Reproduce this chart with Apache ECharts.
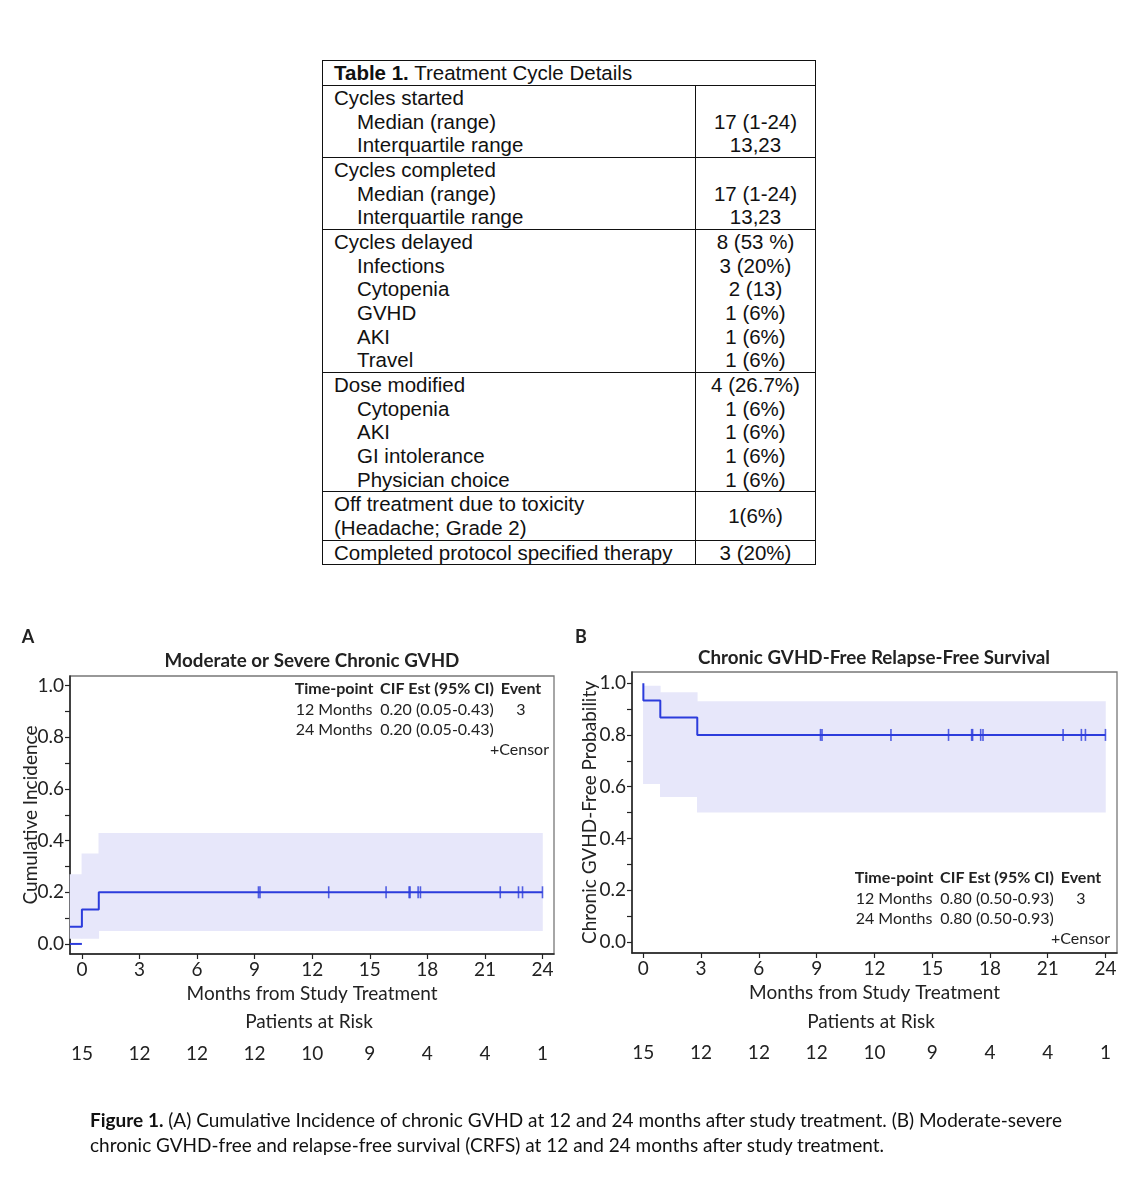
<!DOCTYPE html>
<html>
<head>
<meta charset="utf-8">
<script src="https://cdn.jsdelivr.net/npm/echarts@6/dist/echarts.min.js"></script>
<style>
html,body{margin:0;padding:0;background:#fff;}
#chart{position:absolute;left:0;top:0;width:1141px;height:1200px;}
#tbl{position:absolute;left:322px;top:60px;width:494px;border:1.4px solid #111;box-sizing:border-box;
  font-family:"Liberation Sans",Arial,sans-serif;font-size:20.5px;color:#111;line-height:23.67px;background:#fff;}
.trow{display:flex;border-top:1.4px solid #111;}
.tl{width:373px;box-sizing:border-box;padding-left:11px;border-right:1.4px solid #111;}
.tr{flex:1;text-align:center;display:flex;flex-direction:column;justify-content:center;}
.title{padding-left:11px;height:24px;line-height:24px;}
.ind{padding-left:23px;}
#cap{position:absolute;left:90px;top:1107px;font-family:Lato,"Noto Sans",sans-serif;font-size:19px;color:#111;line-height:25px;white-space:nowrap;}
</style>
</head>
<body>
<div id="chart"></div>
<div id="tbl"></div>
<div id="cap"></div>
<script>
// ---------- Table data ----------
const tableTitleBold = "Table 1.";
const tableTitleRest = " Treatment Cycle Details";
const tableGroups = [
  [["Cycles started", "", 0], ["Median (range)", "17 (1-24)", 1], ["Interquartile range", "13,23", 1]],
  [["Cycles completed", "", 0], ["Median (range)", "17 (1-24)", 1], ["Interquartile range", "13,23", 1]],
  [["Cycles delayed", "8 (53 %)", 0], ["Infections", "3 (20%)", 1], ["Cytopenia", "2 (13)", 1], ["GVHD", "1 (6%)", 1], ["AKI", "1 (6%)", 1], ["Travel", "1 (6%)", 1]],
  [["Dose modified", "4 (26.7%)", 0], ["Cytopenia", "1 (6%)", 1], ["AKI", "1 (6%)", 1], ["GI intolerance", "1 (6%)", 1], ["Physician choice", "1 (6%)", 1]]
];
const offTreatLabel = ["Off treatment due to toxicity", "(Headache; Grade 2)"];
const offTreatValue = "1(6%)";
const completedLabel = "Completed protocol specified therapy";
const completedValue = "3 (20%)";
const captionBold = "Figure 1.";
const captionLine1 = " (A) Cumulative Incidence of chronic GVHD at 12 and 24 months after study treatment. (B) Moderate-severe";
const captionLine2 = "chronic GVHD-free and relapse-free survival (CRFS) at 12 and 24 months after study treatment.";

// ---------- Chart data ----------
const xTicks = [0, 3, 6, 9, 12, 15, 18, 21, 24];
const yTicks = [0, 0.1, 0.2, 0.3, 0.4, 0.5, 0.6, 0.7, 0.8, 0.9, 1.0];
const yLabelTicks = [0, 0.2, 0.4, 0.6, 0.8, 1.0];
const riskA = [15, 12, 12, 12, 10, 9, 4, 4, 1];
const riskB = [15, 12, 12, 12, 10, 9, 4, 4, 1];

// Panel A: cumulative incidence step curve
const stepTimesA = [-0.62, 0, 0.88];
const stepValuesA = [0.067, 0.133, 0.2];
const stepEndA = 24;
const baseTimesA = [-0.62, 0];
const baseValuesA = [0, 0];
const bandStartA = [-0.62, 0, 0.88];
const bandEndA = [0, 0.88, 24];
const bandLowA = [0.02, 0.02, 0.05];
const bandHighA = [0.27, 0.35, 0.43];
const censorTimesA = [9.2, 9.28, 12.86, 15.85, 17.05, 17.1, 17.52, 17.64, 21.8, 22.75, 22.96, 24.0];
const censorValueA = 0.2;

// Panel B: CRFS step curve
const stepTimesB = [0, 0, 0.88, 2.8];
const stepValuesB = [1.0, 0.933, 0.867, 0.8];
const stepEndB = 24;
const bandStartB = [0, 0.88, 2.8];
const bandEndB = [0.88, 2.8, 24];
const bandLowB = [0.61, 0.56, 0.50];
const bandHighB = [0.99, 0.965, 0.93];
const censorTimesB = [9.2, 9.28, 12.86, 15.85, 17.05, 17.1, 17.52, 17.64, 21.8, 22.75, 22.96, 24.0];
const censorValueB = 0.8;

const insetHeader = ["Time-point", "CIF Est (95% CI)", "Event"];
const insetRowsA = [["12 Months", "0.20 (0.05-0.43)", "3"], ["24 Months", "0.20 (0.05-0.43)", ""]];
const insetRowsB = [["12 Months", "0.80 (0.50-0.93)", "3"], ["24 Months", "0.80 (0.50-0.93)", ""]];
const censorLabel = "+Censor";
const titleA = "Moderate or Severe Chronic GVHD";
const titleB = "Chronic GVHD-Free Relapse-Free Survival";
const yNameA = "Cumulative Incidence";
const yNameB = "Chronic GVHD-Free Probability";
const xName = "Months from Study Treatment";
const riskTitle = "Patients at Risk";

// ---------- Build table ----------
(function () {
  const t = document.getElementById('tbl');
  let h = '<div class="title"><b>' + tableTitleBold + '</b>' + tableTitleRest + '</div>';
  tableGroups.forEach(g => {
    h += '<div class="trow"><div class="tl">';
    g.forEach(r => { h += '<div' + (r[2] ? ' class="ind"' : '') + '>' + r[0] + '</div>'; });
    h += '</div><div class="tr" style="justify-content:flex-start">';
    g.forEach(r => { h += '<div>' + (r[1] || '&nbsp;') + '</div>'; });
    h += '</div></div>';
  });
  h += '<div class="trow"><div class="tl">' + offTreatLabel.map(s => '<div>' + s + '</div>').join('') + '</div><div class="tr"><div>' + offTreatValue + '</div></div></div>';
  h += '<div class="trow"><div class="tl">' + completedLabel + '</div><div class="tr"><div>' + completedValue + '</div></div></div>';
  t.innerHTML = h;
  document.getElementById('cap').innerHTML = '<b>' + captionBold + '</b>' + captionLine1 + '<br>' + captionLine2;
})();

// ---------- Chart ----------
const FONT = 'Lato';
const LINE = '#2c3cdc';
const BAND = '#e7e7fa';
const INK = '#222';

function stepPoints(times, values, end) {
  const pts = [];
  for (let i = 0; i < times.length; i++) {
    pts.push([times[i], values[i]]);
    const next = i + 1 < times.length ? times[i + 1] : end;
    pts.push([next, values[i]]);
  }
  return pts;
}
function bandData(s, e, lo, hi) { return s.map((v, i) => [v, e[i], lo[i], hi[i]]); }

function bandSeries(idx, data) {
  return {
    type: 'custom', xAxisIndex: idx * 2, yAxisIndex: idx, data: data, z: 1, silent: true,
    encode: { x: [0, 1], y: [2, 3] },
    renderItem: function (params, api) {
      const p0 = api.coord([api.value(0), api.value(3)]);
      const p1 = api.coord([api.value(1), api.value(2)]);
      return { type: 'rect', shape: { x: p0[0] - 0.3, y: p0[1], width: p1[0] - p0[0] + 0.6, height: p1[1] - p0[1] }, style: { fill: BAND } };
    }
  };
}
function lineSeries(idx, data) {
  return { type: 'line', xAxisIndex: idx * 2, yAxisIndex: idx, data: data, showSymbol: false, symbol: 'none',
    lineStyle: { color: LINE, width: 2 }, z: 3, silent: true };
}
function censorSeries(idx, times, v) {
  return { type: 'scatter', xAxisIndex: idx * 2, yAxisIndex: idx, data: times.map(t => [t, v]),
    symbol: 'rect', symbolSize: [1.6, 12], itemStyle: { color: LINE }, z: 4, silent: true };
}

function xAxes(grid, min, max, risk) {
  return [{
    type: 'value', gridIndex: grid, min: min, max: max, position: 'bottom',
    axisLine: { show: true, onZero: false, lineStyle: { color: INK, width: 1.5 } },
    axisTick: { show: true, customValues: xTicks, length: 5, lineStyle: { color: INK, width: 1.2 } },
    axisLabel: { customValues: xTicks, margin: 6, fontFamily: FONT, fontSize: 19, color: INK },
    splitLine: { show: false },
    name: xName, nameLocation: 'middle', nameGap: 30, nameMoveOverlap: false,
    nameTextStyle: { fontFamily: FONT, fontSize: 19, color: INK }
  }, {
    type: 'value', gridIndex: grid, min: min, max: max, position: 'bottom', offset: 90,
    axisLine: { show: false, onZero: false }, axisTick: { show: false }, splitLine: { show: false },
    axisLabel: { customValues: xTicks, margin: 0, fontFamily: FONT, fontSize: 19, color: INK,
      formatter: v => String(risk[xTicks.indexOf(v)]) }
  }];
}
function yAxis(grid, min, max, name, gap) {
  return {
    type: 'value', gridIndex: grid, min: min, max: max,
    axisLine: { show: true, onZero: false, lineStyle: { color: INK, width: 1.5 } },
    axisTick: { show: true, customValues: yTicks, length: 5, lineStyle: { color: INK, width: 1.2 } },
    axisLabel: { customValues: yLabelTicks, margin: 6, fontFamily: FONT, fontSize: 19, color: INK, formatter: v => v.toFixed(1) },
    splitLine: { show: false },
    name: name, nameLocation: 'middle', nameGap: gap, nameMoveOverlap: false,
    nameTextStyle: { fontFamily: FONT, fontSize: 19, color: INK }
  };
}

function txt(x, y, s, opt) {
  opt = opt || {};
  return { type: 'text', x: x, y: y, silent: true,
    style: { text: s, fill: INK, font: (opt.bold ? 'bold ' : '') + (opt.size || 16) + 'px ' + FONT,
      align: opt.align || 'center', verticalAlign: 'middle', textAlign: opt.align || 'center', textVerticalAlign: 'middle' } };
}
function inset(cx, y0, rows, censorRight, dy) {
  const els = [];
  els.push(txt(cx[0], y0, insetHeader[0], { bold: true }));
  els.push(txt(cx[1], y0, insetHeader[1], { bold: true }));
  els.push(txt(cx[2], y0, insetHeader[2], { bold: true }));
  rows.forEach((r, i) => {
    r.forEach((s, j) => { if (s) els.push(txt(cx[j], y0 + (i + 1) * 20.5, s)); });
  });
  els.push(txt(censorRight, y0 + dy, censorLabel, { align: 'right' }));
  return els;
}

const chart = echarts.init(document.getElementById('chart'), null, { renderer: 'canvas' });
const option = {
  animation: false,
  backgroundColor: 'transparent',
  grid: [
    { left: 70, top: 676, width: 484, height: 278, show: true, borderColor: '#777', borderWidth: 1.3, containLabel: false },
    { left: 632, top: 672, width: 485, height: 281, show: true, borderColor: '#777', borderWidth: 1.3, containLabel: false }
  ],
  xAxis: [].concat(xAxes(0, -0.62, 24.6, riskA), xAxes(1, -0.59, 24.6, riskB)),
  yAxis: [yAxis(0, -0.039, 1.0375, yNameA, 30), yAxis(1, -0.0425, 1.043, yNameB, 33)],
  series: [
    bandSeries(0, bandData(bandStartA, bandEndA, bandLowA, bandHighA)),
    lineSeries(0, stepPoints(stepTimesA, stepValuesA, stepEndA)),
    lineSeries(0, baseTimesA.map((t, i) => [t, baseValuesA[i]])),
    censorSeries(0, censorTimesA, censorValueA),
    bandSeries(1, bandData(bandStartB, bandEndB, bandLowB, bandHighB)),
    lineSeries(1, stepPoints(stepTimesB, stepValuesB, stepEndB)),
    censorSeries(1, censorTimesB, censorValueB)
  ],
  graphic: [].concat(
    [txt(28, 637, 'A', { bold: true, size: 18 }), txt(581, 637, 'B', { bold: true, size: 18 }),
     txt(312, 661, titleA, { bold: true, size: 18.8 }), txt(874, 658, titleB, { bold: true, size: 18.8 }),
     txt(309, 1022, riskTitle, { size: 19 }), txt(871, 1022, riskTitle, { size: 19 })],
    inset([334, 437, 521], 689, insetRowsA, 549, 61),
    inset([894, 997, 1081], 878, insetRowsB, 1110, 61)
  )
};
chart.setOption(option);
</script>
</body>
</html>
